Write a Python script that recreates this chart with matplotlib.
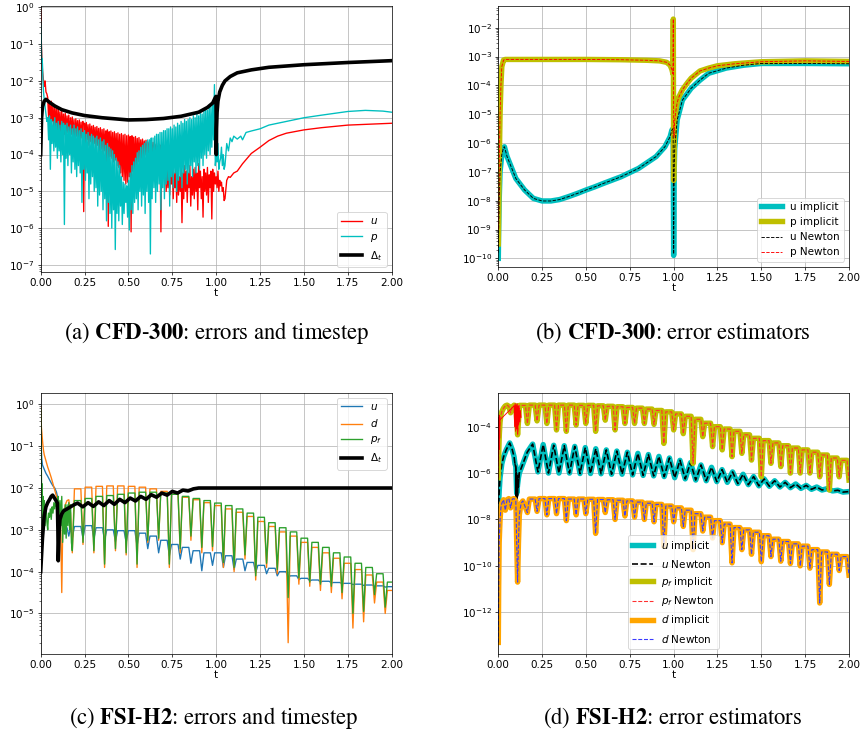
import numpy as np
import matplotlib
matplotlib.use("Agg")
import matplotlib.pyplot as plt
from matplotlib.ticker import LogLocator, NullFormatter

W, H, DPI = 860, 737, 65
plt.rcParams["font.size"] = 11.5

# ---------------- (a) CFD-300 errors and timestep (values are log10) ----------------
dt_a_t = [0.0, 0.005, 0.01, 0.02, 0.03, 0.05, 0.08, 0.12, 0.18, 0.25, 0.35, 0.5, 0.6, 0.7,
          0.8, 0.9, 0.95, 0.98, 0.995, 0.999, 1.0005, 1.002, 1.005, 1.01, 1.02, 1.035, 1.05,
          1.08, 1.12, 1.2, 1.3, 1.5, 1.75, 2.0]
dt_a = [-4.0, -3.0, -2.7, -2.55, -2.5, -2.58, -2.68, -2.78, -2.87, -2.94, -3.0, -3.06, -3.05,
        -3.02, -2.96, -2.85, -2.72, -2.6, -2.45, -2.42, -4.0, -3.3, -2.85, -2.55, -2.3, -2.12,
        -2.0, -1.88, -1.78, -1.7, -1.63, -1.56, -1.5, -1.45]

# start, noisy band (upper samples at t, lower samples at t+0.005), smooth tail
u_a_start_t = [0.0, 0.002, 0.004, 0.007, 0.01, 0.015, 0.02, 0.025, 0.03, 0.035]
u_a_start = [-0.05, -0.6, -1.0, -1.4, -1.7, -1.95, -2.15, -2.0, -2.3, -2.35]
u_a_hi = [-2.45, -2.58, -2.55, -2.68, -2.66, -2.76, -2.74, -2.84, -2.82, -2.9,
          -2.88, -2.95, -2.93, -3.0, -2.98, -3.05, -3.03, -3.08, -3.06, -3.12,
          -3.1, -3.15, -3.13, -3.19, -3.17, -3.23, -3.21, -3.26, -3.24, -3.29,
          -3.27, -3.32, -3.3, -3.36, -3.33, -3.38, -3.36, -3.4, -3.38, -3.43,
          -3.41, -3.45, -3.43, -3.47, -3.45, -3.49, -3.47, -3.51, -3.49, -3.53,
          -3.51, -3.56, -3.54, -3.6, -3.58, -3.63, -3.61, -3.66, -3.64, -3.69,
          -3.67, -3.72, -3.7, -3.76, -3.74, -3.8, -3.9, -4.2, -4.35, -4.3,
          -4.45, -4.3, -4.5, -4.4, -4.2, -4.6, -4.35, -4.5, -4.3, -4.45,
          -4.5, -4.3, -4.6, -4.4, -4.35, -4.5, -4.25, -4.45, -4.6, -4.4,
          -4.5, -4.35, -4.55, -4.45, -4.4, -4.5, -4.6, -4.45, -4.7, -4.75,
          -4.9]
u_a_lo = [-3.0, -3.2, -3.1, -3.3, -3.25, -3.4, -3.3, -3.5, -3.35, -3.45,
          -3.5, -3.4, -3.6, -3.45, -3.55, -3.7, -3.5, -3.6, -3.65, -3.55,
          -5.55, -3.7, -3.6, -3.75, -3.65, -3.8, -3.7, -3.85, -3.75, -3.9,
          -3.85, -4.0, -3.9, -4.4, -5.95, -4.05, -4.1, -4.2, -4.15, -4.3,
          -4.35, -4.5, -4.6, -4.7, -4.8, -4.75, -4.6, -6.1, -4.45, -4.4,
          -4.3, -4.2, -4.15, -4.1, -4.05, -4.0, -4.0, -3.95, -3.95, -4.0,
          -4.0, -3.95, -4.1, -4.05, -6.1, -4.3, -4.6, -5.0, -4.9, -5.1,
          -4.8, -5.2, -4.9, -5.3, -5.1, -5.0, -5.85, -5.2, -5.0, -5.3,
          -4.9, -5.4, -5.1, -5.2, -5.0, -5.5, -4.9, -5.2, -5.7, -5.0,
          -5.1, -5.3, -4.9, -5.75, -5.0, -4.8, -4.9, -5.0, -4.85, -5.0,
          -5.25]
u_a_end_t = [1.05, 1.06, 1.07, 1.08, 1.1, 1.12, 1.15, 1.2, 1.25, 1.3, 1.35, 1.4, 1.5, 1.6,
             1.75, 1.9, 2.0]
u_a_end = [-5.2, -4.7, -4.6, -4.62, -4.5, -4.45, -4.25, -3.97, -3.8, -3.62, -3.5, -3.42,
           -3.33, -3.27, -3.2, -3.17, -3.15]

p_a_start_t = [0.0, 0.002, 0.004, 0.006, 0.008, 0.01, 0.013, 0.016, 0.02, 0.025, 0.03, 0.035]
p_a_start = [-0.4, -0.65, -1.1, -1.5, -1.4, -1.55, -2.0, -2.3, -2.5, -2.7, -2.9, -3.1]
p_a_hi = [-3.0, -2.95, -3.05, -3.1, -3.0, -3.15, -3.1, -3.2, -3.1, -3.15,
          -3.2, -3.15, -3.25, -3.2, -3.3, -3.2, -3.3, -3.25, -3.35, -3.3,
          -3.4, -3.35, -3.45, -3.4, -3.5, -3.45, -3.5, -3.55, -3.5, -3.6,
          -3.55, -3.65, -3.6, -3.75, -3.7, -3.8, -3.85, -3.9, -4.0, -4.1,
          -4.2, -4.3, -4.6, -4.75, -4.8, -4.85, -4.7, -4.5, -4.3, -4.2,
          -4.1, -3.95, -3.9, -3.8, -3.75, -3.7, -3.65, -3.6, -3.6, -3.55,
          -3.55, -3.5, -3.45, -3.45, -3.4, -3.4, -3.35, -3.35, -3.3, -3.3,
          -3.25, -3.3, -3.2, -3.25, -3.15, -3.2, -3.1, -3.15, -3.05, -3.1,
          -3.05, -3.0, -3.05, -2.95, -3.0, -2.9, -2.95, -2.85, -2.9, -2.8,
          -2.75, -2.8, -2.65, -2.7, -2.6, -2.1, -4.0, -3.7, -4.2, -3.8,
          -4.0]
p_a_lo = [-3.6, -4.4, -3.7, -3.9, -3.8, -4.1, -3.9, -4.2, -4.0, -5.9,
          -4.1, -4.3, -4.0, -4.5, -4.2, -4.4, -4.6, -4.3, -4.5, -5.3,
          -4.4, -4.7, -4.5, -5.2, -4.8, -4.6, -5.0, -4.9, -5.4, -5.1,
          -5.0, -5.5, -5.2, -5.8, -5.3, -5.6, -6.0, -5.5, -6.58, -5.6,
          -5.8, -5.4, -5.9, -5.6, -5.3, -5.7, -6.05, -5.5, -5.6, -5.3,
          -5.2, -5.5, -5.0, -5.4, -5.1, -5.6, -5.0, -5.3, -6.7, -5.2,
          -4.9, -5.3, -5.0, -4.8, -5.5, -4.9, -5.2, -4.8, -4.7, -5.4,
          -4.6, -4.9, -4.5, -5.0, -4.7, -4.6, -4.9, -4.5, -4.4, -4.8,
          -4.5, -4.3, -4.6, -4.2, -4.5, -4.3, -4.4, -4.1, -4.3, -4.0,
          -4.1, -3.9, -4.0, -3.8, -3.6, -4.3, -4.2, -4.4, -4.1, -4.3,
          -4.4]
p_a_end_t = [1.05, 1.06, 1.07, 1.08, 1.09, 1.1, 1.12, 1.14, 1.15, 1.17, 1.2, 1.25, 1.3, 1.4,
             1.5, 1.6, 1.75, 1.85, 1.95, 2.0]
p_a_end = [-4.3, -3.7, -3.9, -3.55, -3.65, -3.5, -3.58, -3.5, -3.6, -3.4, -3.36, -3.3, -3.2,
           -3.1, -3.0, -2.93, -2.83, -2.8, -2.82, -2.85]

# ---------------- (b) CFD-300 error estimators ----------------
b_u_t = [0.0, 0.002, 0.005, 0.01, 0.02, 0.03, 0.035, 0.05, 0.1, 0.15, 0.2, 0.25, 0.3, 0.35,
         0.4, 0.45, 0.5, 0.55, 0.6, 0.7, 0.8, 0.9, 0.95, 0.98, 0.99, 0.997, 1.0, 1.003,
         1.006, 1.01, 1.02, 1.05, 1.1, 1.15, 1.2, 1.3, 1.4, 1.5, 1.75, 2.0]
b_u_impl = [-10.0, -9.0, -8.0, -7.0, -6.4, -6.15, -6.13, -6.47, -7.23, -7.63, -7.92, -8.01,
            -8.01, -7.96, -7.86, -7.75, -7.63, -7.52, -7.4, -7.17, -6.88, -6.47, -6.13,
            -5.78, -5.55, -5.5, -9.9, -7.0, -6.2, -5.9, -5.2, -4.51, -4.1, -3.82, -3.58,
            -3.4, -3.3, -3.24, -3.24, -3.25]
b_u_newt = [-9.8, -9.0, -8.0, -7.0, -6.4, -6.15, -6.13, -6.47, -7.23, -7.63, -7.92, -8.01,
            -8.01, -7.96, -7.86, -7.75, -7.63, -7.52, -7.4, -7.17, -6.88, -6.47, -6.13,
            -5.78, -5.55, -5.5, -9.85, -7.0, -6.2, -5.9, -5.2, -4.51, -4.1, -3.82, -3.58,
            -3.4, -3.3, -3.24, -3.24, -3.25]
b_p_t = [0.0, 0.003, 0.006, 0.01, 0.015, 0.02, 0.03, 0.04, 0.1, 0.3, 0.5, 0.7, 0.85, 0.92,
         0.96, 0.98, 0.99, 0.996, 0.998, 1.0, 1.002, 1.005, 1.01, 1.02, 1.03, 1.05, 1.08,
         1.1, 1.15, 1.2, 1.25, 1.35, 1.5, 1.75, 2.0]
b_p_impl = [-9.5, -8.0, -6.5, -5.0, -4.0, -3.35, -3.12, -3.1, -3.1, -3.1, -3.1, -3.11,
            -3.13, -3.15, -3.2, -3.3, -3.45, -3.6, -1.7, -7.3, -5.8, -5.3, -5.0, -4.6, -4.4,
            -4.15, -3.9, -3.75, -3.5, -3.4, -3.32, -3.25, -3.18, -3.15, -3.17]
b_p_newt = [-9.0, -8.0, -6.5, -5.0, -4.0, -3.35, -3.12, -3.1, -3.1, -3.1, -3.1, -3.11,
            -3.13, -3.15, -3.2, -3.3, -3.45, -3.6, -1.7, -5.3, -5.8, -5.3, -5.0, -4.6, -4.4,
            -4.15, -3.9, -3.75, -3.5, -3.4, -3.32, -3.25, -3.18, -3.15, -3.17]

# ---------------- (c) FSI-H2 errors and timestep ----------------
c_osc_t = [0.18, 0.241, 0.303, 0.364, 0.426, 0.487, 0.549, 0.61, 0.672, 0.733, 0.795, 0.856,
           0.918, 0.979, 1.041, 1.102, 1.164, 1.225, 1.287, 1.348, 1.41, 1.471, 1.533, 1.594,
           1.656, 1.717, 1.779, 1.84, 1.902, 1.963, 2.025]

c_u_early_t = [0.0, 0.003, 0.006, 0.01, 0.02, 0.03, 0.04, 0.05, 0.06, 0.07, 0.08, 0.09, 0.1,
               0.11, 0.12, 0.13, 0.14, 0.15, 0.16, 0.17]
c_u_early = [-0.6, -1.0, -1.3, -1.45, -1.55, -1.65, -1.72, -1.8, -1.88, -1.95, -2.0, -2.1,
             -2.3, -2.6, -2.85, -2.95, -3.1, -2.95, -3.15, -2.95]
c_u_trough = [-3.2, -3.2, -3.22, -3.25, -3.28, -3.3, -3.38, -3.45, -3.55, -3.62, -3.7, -3.8,
              -3.98, -3.85, -3.9, -3.95, -3.98, -4.02, -4.05, -4.1, -4.15, -4.19, -4.22,
              -4.25, -4.27, -4.29, -4.31, -4.33, -4.35, -4.37, -4.39]
c_u_peak = [-2.92, -2.9, -2.95, -3.0, -3.02, -3.02, -3.08, -3.15, -3.25, -3.35, -3.42, -3.5,
            -3.55, -3.55, -3.62, -3.7, -3.78, -3.85, -3.92, -4.0, -4.1, -4.16, -4.2, -4.23,
            -4.26, -4.28, -4.3, -4.32, -4.34, -4.36]

c_d_early_t = [0.0, 0.004, 0.008, 0.012, 0.016, 0.02, 0.03, 0.04, 0.05, 0.06, 0.07, 0.08,
               0.09, 0.1, 0.105, 0.11, 0.115, 0.12, 0.125, 0.13, 0.14, 0.15, 0.16, 0.17]
c_d_early = [-0.05, -0.55, -0.75, -0.95, -1.1, -1.2, -1.35, -1.5, -1.62, -1.75, -1.9, -2.05,
             -2.2, -2.3, -2.35, -2.45, -3.2, -4.5, -3.1, -2.7, -2.4, -2.3, -2.28, -2.6]
c_d_trough = [-3.55, -3.35, -3.55, -3.9, -3.5, -3.6, -3.9, -3.3, -3.25, -3.9, -3.55, -3.25,
              -3.55, -3.5, -3.9, -4.0, -3.7, -4.2, -3.9, -4.05, -5.7, -4.3, -4.35, -4.45,
              -4.5, -4.65, -5.35, -5.2, -4.75, -5.0, -4.75]
c_d_peak = [-2.02, -1.98, -1.96, -1.95, -1.95, -1.96, -1.98, -2.02, -2.08, -2.15, -2.22,
            -2.28, -2.35, -2.42, -2.5, -2.58, -2.68, -2.8, -2.92, -3.05, -3.15, -3.3, -3.42,
            -3.55, -3.68, -3.8, -3.95, -4.08, -4.25, -4.45]

c_pf_early_t = [0.0, 0.002, 0.004, 0.006, 0.008, 0.01, 0.013, 0.016, 0.02, 0.025, 0.03,
                0.035, 0.04, 0.045, 0.05, 0.055, 0.06, 0.065, 0.07, 0.075, 0.08, 0.085,
                0.09, 0.095, 0.1, 0.105, 0.11, 0.115, 0.12, 0.125, 0.13, 0.135, 0.14, 0.145,
                0.15, 0.155, 0.16, 0.165, 0.17, 0.175]
c_pf_early = [-0.1, -0.8, -1.6, -2.4, -1.9, -2.9, -2.2, -2.7, -2.3, -2.9, -2.4, -2.8, -3.0,
              -2.6, -2.7, -2.5, -2.75, -2.45, -2.6, -2.35, -2.5, -2.3, -2.45, -2.3, -2.2,
              -3.0, -2.3, -2.9, -2.2, -3.3, -2.5, -3.1, -2.4, -3.2, -2.4, -2.9, -2.35, -3.0,
              -2.4, -3.3]
c_pf_trough = [-3.5, -3.3, -3.5, -3.82, -3.45, -3.55, -3.82, -3.25, -3.2, -3.82, -3.45,
               -3.15, -3.42, -3.4, -3.78, -3.9, -3.6, -4.1, -3.8, -3.95, -4.62, -4.15, -4.25,
               -4.3, -4.35, -4.5, -5.0, -4.95, -4.55, -4.85, -4.55]
c_pf_peak = [-2.3, -2.25, -2.2, -2.18, -2.15, -2.12, -2.1, -2.1, -2.12, -2.15, -2.2, -2.25,
             -2.3, -2.36, -2.42, -2.5, -2.6, -2.7, -2.83, -2.95, -3.05, -3.2, -3.3, -3.42,
             -3.55, -3.65, -3.8, -3.9, -4.05, -4.25]

c_dt_t = [0.0, 0.005, 0.01, 0.02, 0.03, 0.04, 0.05, 0.06, 0.068, 0.08, 0.09, 0.095, 0.098,
          0.1, 0.102, 0.105, 0.11, 0.12, 0.13, 0.15, 0.17, 0.19, 0.21, 0.24, 0.27, 0.3, 0.33,
          0.36, 0.39, 0.42, 0.45, 0.48, 0.51, 0.54, 0.57, 0.6, 0.63, 0.66, 0.69, 0.72, 0.75,
          0.78, 0.81, 0.84, 0.87, 0.9, 0.95, 1.0, 2.0]
c_dt = [-4.0, -3.6, -3.2, -2.66, -2.45, -2.35, -2.28, -2.2, -2.17, -2.25, -2.32, -2.36, -3.0,
        -3.74, -3.5, -3.0, -2.75, -2.62, -2.55, -2.5, -2.45, -2.4, -2.36, -2.45, -2.35, -2.44,
        -2.33, -2.42, -2.3, -2.39, -2.27, -2.35, -2.24, -2.31, -2.2, -2.27, -2.16, -2.22,
        -2.12, -2.17, -2.08, -2.12, -2.05, -2.07, -2.02, -2.0, -2.0, -2.0, -2.0]

# ---------------- (d) FSI-H2 error estimators ----------------
d_osc_t = [0.11, 0.166, 0.221, 0.277, 0.332, 0.388, 0.444, 0.499, 0.555, 0.61, 0.666, 0.722,
           0.777, 0.833, 0.888, 0.944, 1.0, 1.055, 1.111, 1.166, 1.222, 1.277, 1.333, 1.389,
           1.444, 1.5, 1.555, 1.611, 1.666, 1.722, 1.777, 1.833, 1.888, 1.944, 2.0]

d_pf_early_t = [0.0, 0.003, 0.006, 0.01, 0.015, 0.02, 0.03, 0.04, 0.05, 0.06, 0.07, 0.08,
                0.09, 0.1]
d_pf_early = [-6.2, -5.0, -4.3, -3.8, -3.5, -3.35, -3.2, -3.1, -3.07, -3.12, -3.4, -3.15,
              -3.07, -3.1]
d_pf_trough = [-4.35, -3.86, -3.75, -3.86, -4.14, -4.2, -3.93, -3.86, -4.2, -3.72, -4.14,
               -3.86, -3.86, -3.86, -3.9, -4.72, -4.14, -4.3, -5.58, -4.43, -4.86, -5.0,
               -5.29, -5.15, -5.44, -6.16, -5.58, -5.72, -6.0, -6.0, -6.0, -6.16, -6.73,
               -6.16, -6.3]
d_pf_peak = [-3.08, -3.07, -3.07, -3.07, -3.07, -3.07, -3.08, -3.08, -3.1, -3.12, -3.14,
             -3.17, -3.2, -3.24, -3.3, -3.36, -3.45, -3.55, -3.68, -3.85, -4.0, -4.1, -4.2,
             -4.35, -4.5, -4.6, -4.7, -4.82, -4.92, -5.0, -5.1, -5.22, -5.35, -5.45]
d_pf_newt_noise_t = [0.0, 0.002, 0.004, 0.006, 0.008, 0.01, 0.09, 0.093, 0.096, 0.099,
                     0.102, 0.105, 0.108, 0.111, 0.114, 0.117, 0.12, 0.123, 0.126, 0.13]
d_pf_newt_noise = [-5.5, -3.6, -5.0, -3.5, -4.5, -3.7, -3.1, -4.0, -3.0, -4.2, -3.05, -4.1,
                   -3.0, -4.3, -3.1, -3.9, -3.2, -3.8, -3.3, -3.6]

d_d_early_t = [0.0, 0.002, 0.005, 0.01, 0.015, 0.02, 0.03, 0.04, 0.05, 0.06, 0.07, 0.08,
               0.09, 0.1, 0.105, 0.11, 0.115, 0.12, 0.13, 0.14]
d_d_early = [-13.3, -11.0, -9.0, -8.0, -7.5, -7.3, -7.15, -7.6, -7.15, -7.1, -7.5, -7.12,
             -7.1, -7.2, -9.0, -10.7, -9.0, -7.8, -7.3, -7.2]
d_d_trough = [-7.7, -7.65, -7.8, -7.75, -8.05, -7.8, -7.75, -8.6, -7.7, -8.0, -7.85, -7.9,
              -8.0, -8.1, -9.16, -8.1, -8.3, -9.3, -8.5, -8.8, -9.0, -9.87, -9.3, -9.5,
              -9.82, -9.6, -9.8, -9.9, -10.0, -10.1, -11.6, -10.8, -10.2, -10.4]
d_d_peak = [-7.12, -7.1, -7.1, -7.1, -7.12, -7.12, -7.13, -7.14, -7.15, -7.17, -7.2, -7.25,
            -7.3, -7.35, -7.42, -7.5, -7.6, -7.75, -7.9, -8.05, -8.2, -8.35, -8.45, -8.55,
            -8.7, -8.85, -8.95, -9.05, -9.15, -9.3, -9.4, -9.5, -9.6]

d_u_early_t = [0.0, 0.005, 0.01, 0.02, 0.03, 0.045, 0.065, 0.08, 0.09, 0.095, 0.1, 0.105,
               0.11, 0.115, 0.12, 0.13, 0.14, 0.15, 0.165]
d_u_early = [-7.7, -6.8, -6.2, -5.6, -5.3, -5.0, -4.7, -5.0, -5.3, -5.6, -5.7, -6.87, -6.5,
             -6.2, -6.0, -5.8, -5.6, -5.4, -5.1]
d_u_peak_t = [0.196, 0.256, 0.316, 0.376, 0.436, 0.496, 0.556, 0.616, 0.676, 0.736, 0.796,
              0.856, 0.916, 0.976, 1.036, 1.096, 1.156, 1.216, 1.276, 1.336, 1.396, 1.456,
              1.516, 1.576, 1.636, 1.696, 1.756, 1.816, 1.876, 1.936, 1.996]
d_u_peak = [-4.75, -4.77, -4.8, -4.82, -4.85, -4.9, -4.95, -5.0, -5.05, -5.1, -5.15, -5.2,
            -5.28, -5.35, -5.45, -5.55, -5.65, -5.75, -5.85, -5.95, -6.05, -6.15, -6.25,
            -6.33, -6.4, -6.47, -6.53, -6.6, -6.67, -6.74, -6.8]
d_u_trough_t = [0.226, 0.286, 0.346, 0.406, 0.466, 0.526, 0.586, 0.646, 0.706, 0.766, 0.826,
                0.886, 0.946, 1.006, 1.066, 1.126, 1.186, 1.246, 1.306, 1.366, 1.426, 1.486,
                1.546, 1.606, 1.666, 1.726, 1.786, 1.846, 1.906, 1.966]
d_u_trough = [-5.95, -6.0, -6.0, -6.0, -6.02, -6.02, -6.03, -6.05, -6.05, -6.08, -6.1, -6.12,
              -6.15, -6.2, -6.25, -6.3, -6.33, -6.37, -6.4, -6.45, -6.5, -6.55, -6.57, -6.6,
              -6.63, -6.66, -6.7, -6.73, -6.77, -6.82]
d_u_newt_dip_t = [0.095, 0.1, 0.102, 0.104, 0.106, 0.108, 0.11, 0.112, 0.115, 0.12]
d_u_newt_dip = [-5.6, -5.8, -7.3, -6.0, -7.2, -6.1, -7.0, -6.3, -6.6, -6.0]


def arches(tt, lo, hi):
    # arch per period: trough -> peak plateau -> next trough
    xs, ys = [], []
    for i in range(len(hi)):
        a, b = tt[i], tt[i + 1]
        xs += [a, a + 0.2 * (b - a), a + 0.8 * (b - a)]
        ys += [lo[i], hi[i], hi[i]]
    xs.append(tt[-1])
    ys.append(lo[-1])
    return xs, ys


def series(*parts):
    t = np.concatenate([np.asarray(p[0], float) for p in parts])
    v = np.concatenate([np.asarray(p[1], float) for p in parts])
    return t, 10.0 ** v


def band(hi, lo, t0=0.04, step=0.01):
    t_hi = t0 + step * np.arange(len(hi))
    t = np.column_stack([t_hi, t_hi + step / 2]).ravel()
    v = np.column_stack([hi, lo]).ravel()
    return t, v


def style(ax, ylim, numticks=15):
    ax.set_yscale("log")
    ax.set_xlim(0, 2)
    ax.set_ylim(*ylim)
    ax.set_xticks([0.0, 0.25, 0.5, 0.75, 1.0, 1.25, 1.5, 1.75, 2.0])
    ax.yaxis.set_major_locator(LogLocator(base=10, numticks=numticks))
    ax.yaxis.set_minor_formatter(NullFormatter())
    ax.grid(True)
    ax.set_xlabel("t", labelpad=0)


def rect(l, t, r, b):
    return [l / W, 1 - b / H, (r - l) / W, (b - t) / H]


fig = plt.figure(figsize=(W / DPI, H / DPI), dpi=DPI)
ax_a = fig.add_axes(rect(40.7, 6, 391.7, 272))
ax_b = fig.add_axes(rect(498.3, 5.7, 849, 266.7))
ax_c = fig.add_axes(rect(40.7, 392.7, 391.7, 654))
ax_d = fig.add_axes(rect(498.3, 393.3, 849, 654))

# (a)
t, v = series((u_a_start_t, u_a_start), band(u_a_hi, u_a_lo), (u_a_end_t, u_a_end))
ax_a.plot(t, v, color="r", lw=1.5, label="$u$")
t, v = series((p_a_start_t, p_a_start), band(p_a_hi, p_a_lo), (p_a_end_t, p_a_end))
ax_a.plot(t, v, color="c", lw=1.5, label="$p$")
t, v = series((dt_a_t, dt_a))
ax_a.plot(t, v, color="k", lw=4, label=r"$\Delta_t$")
style(ax_a, (10 ** -7.19, 10 ** 0.035))
ax_a.legend(loc="lower right")

# (b)
t, v = series((b_u_t, b_u_impl))
ax_b.plot(t, v, color="c", lw=6, label="u implicit")
t, v = series((b_p_t, b_p_impl))
ax_b.plot(t, v, color="y", lw=6, label="p implicit")
t, v = series((b_u_t, b_u_newt))
ax_b.plot(t, v, "k--", lw=1, label="u Newton")
t, v = series((b_p_t, b_p_newt))
ax_b.plot(t, v, "r--", lw=1, label="p Newton")
style(ax_b, (10 ** -10.29, 10 ** -1.236))
ax_b.legend(loc="lower right")

# (c)
t, v = series((c_u_early_t, c_u_early), arches(c_osc_t, c_u_trough, c_u_peak))
ax_c.plot(t, v, color="C0", lw=1.5, label="$u$")
t, v = series((c_d_early_t, c_d_early), arches(c_osc_t, c_d_trough, c_d_peak))
ax_c.plot(t, v, color="C1", lw=1.5, label="$d$")
t, v = series((c_pf_early_t, c_pf_early), arches(c_osc_t, c_pf_trough, c_pf_peak))
ax_c.plot(t, v, color="C2", lw=1.5, label="$p_f$")
t, v = series((c_dt_t, c_dt))
ax_c.plot(t, v, color="k", lw=4, label=r"$\Delta_t$")
style(ax_c, (10 ** -5.97, 10 ** 0.28))
ax_c.legend(loc="upper right")

# (d)
zig_t = np.column_stack([d_u_peak_t[:-1], d_u_trough_t]).ravel().tolist() + [d_u_peak_t[-1]]
zig_v = np.column_stack([d_u_peak[:-1], d_u_trough]).ravel().tolist() + [d_u_peak[-1]]
t, v = series((d_u_early_t, d_u_early), (zig_t, zig_v))
ax_d.plot(t, v, color="c", lw=6, label="$u$ implicit")
ax_d.plot(t, v, "k--", lw=1.8, label="$u$ Newton")
t2, v2 = series((d_u_newt_dip_t, d_u_newt_dip))
ax_d.plot(t2, v2, color="k", lw=1.5)
t, v = series((d_pf_early_t, d_pf_early), arches(d_osc_t, d_pf_trough, d_pf_peak))
ax_d.plot(t, v, color="y", lw=6, label="$p_f$ implicit")
ax_d.plot(t, v, "--", color="#ff3030", lw=1.2, label="$p_f$ Newton")
t2, v2 = series((d_pf_newt_noise_t, d_pf_newt_noise))
ax_d.plot(t2, v2, color="r", lw=1)
t, v = series((d_d_early_t, d_d_early), arches(d_osc_t[1:], d_d_trough, d_d_peak))
ax_d.plot(t, v, color="orange", lw=6, label="$d$ implicit")
ax_d.plot(t, v, "--", color="#3a3aff", lw=1.2, label="$d$ Newton")
style(ax_d, (10 ** -13.8, 10 ** -2.56), numticks=6)
ax_d.legend(loc="lower center")

# captions
caps = [
    (217, 333, r"(a) $\mathbf{CFD}$-$\mathbf{300}$: errors and timestep"),
    (673, 333, r"(b) $\mathbf{CFD}$-$\mathbf{300}$: error estimators"),
    (214, 718, r"(c) $\mathbf{FSI}$-$\mathbf{H2}$: errors and timestep"),
    (673, 718, r"(d) $\mathbf{FSI}$-$\mathbf{H2}$: error estimators"),
]
for x, y, s in caps:
    fig.text(x / W, 1 - y / H, s, ha="center", va="center", fontsize=25,
             family="STIXGeneral", math_fontfamily="stix")

fig.savefig("out.png", dpi=DPI)
